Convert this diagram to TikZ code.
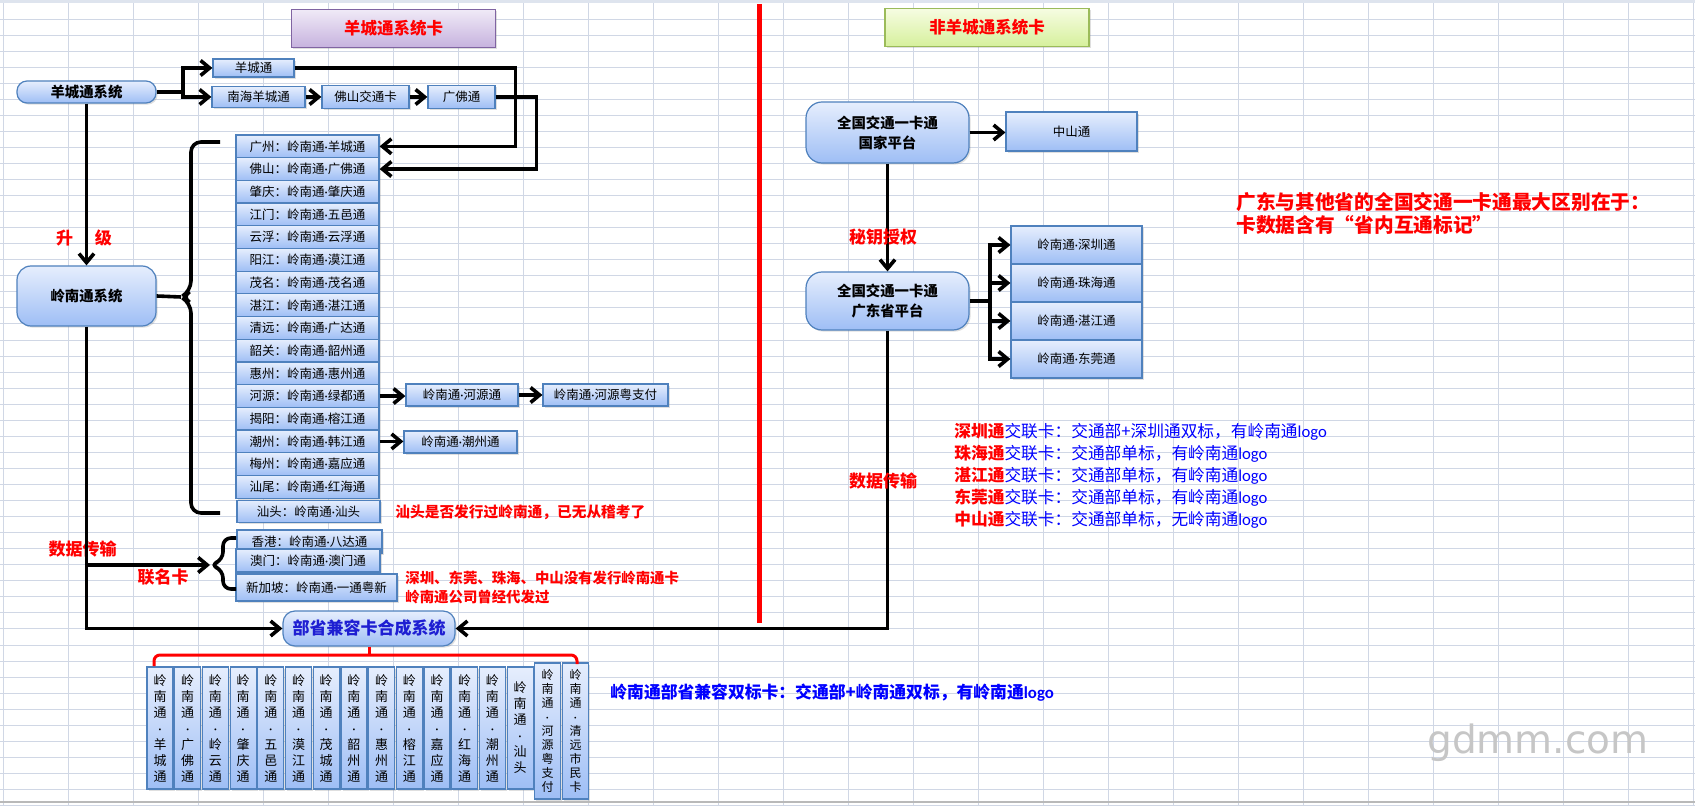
\documentclass[tikz,border=0pt]{standalone}
\usepackage{fontspec}
\setmainfont{Noto Sans CJK SC}
\newfontfamily\logofont{Carlito}
\newfontfamily\markfont{DejaVu Sans}
\usetikzlibrary{arrows.meta,shadows}
\definecolor{GridLine}{RGB}{208,215,229}
\definecolor{HeadBand}{RGB}{222,228,238}
\definecolor{BoxTop}{RGB}{230,238,253}
\definecolor{BoxBottom}{RGB}{158,190,245}
\definecolor{BoxLine}{RGB}{79,129,189}
\definecolor{LilacTop}{RGB}{240,234,247}
\definecolor{LilacBottom}{RGB}{198,178,222}
\definecolor{LilacLine}{RGB}{128,100,162}
\definecolor{LimeTop}{RGB}{246,252,226}
\definecolor{LimeBottom}{RGB}{214,240,156}
\definecolor{LimeLine}{RGB}{155,187,89}
\definecolor{NoteRed}{RGB}{255,0,0}
\definecolor{NoteBlue}{RGB}{0,0,255}
\definecolor{SysBlue}{RGB}{30,30,210}
\newcommand{\mdot}{{\logofont ·}}

\begin{document}
\begin{tikzpicture}[x=0.5pt, y=-0.5pt,
  every node/.style={align=center, inner sep=0pt},
  gridline/.style={GridLine, line width=0.5pt},
  cell/.style={draw=BoxLine, line width=0.6pt, top color=BoxTop, bottom color=BoxBottom,
    drop shadow={opacity=0.25,shadow xshift=0.8pt,shadow yshift=-0.8pt},
    font=\fontsize{6.25}{7.5}\selectfont},
  sysbox/.style={cell, rounded corners=5pt, font=\fontsize{7.2}{10}\selectfont\bfseries},
  rowbox/.style={cell, minimum width=71.5pt, minimum height=11.35pt},
  cardv/.style={cell, minimum width=13pt, minimum height=61pt, font=\fontsize{6.5}{8}\selectfont},
  titlebox/.style={line width=0.6pt, minimum width=102pt, minimum height=19pt,
    drop shadow={opacity=0.25,shadow xshift=0.8pt,shadow yshift=-0.8pt},
    text=NoteRed, font=\fontsize{8.25}{10}\selectfont\bfseries},
  redlbl/.style={text=NoteRed, font=\fontsize{8.5}{10}\selectfont\bfseries},
  wire/.style={line width=1.8pt},
  link/.style={wire, -{Straight Barb[length=4.5pt,width=7.5pt]}},
  brace/.style={wire, rounded corners=5pt}]
  \useasboundingbox (0,0) rectangle (1695,806);
  \fill[white] (0,0) rectangle (1695,806);
  \foreach \k in {0,...,26}
    \draw[gridline] ({3+65*\k},3) -- ({3+65*\k},806);
  \foreach \k in {0,...,50}
    \draw[gridline] (0,{3+16.05*\k}) -- (1695,{3+16.05*\k});
  \fill[HeadBand] (0,0) rectangle (1695,3);
  \draw[gray!55, line width=1pt] (0,802) -- (1695,802);

  \node[titlebox, draw=LilacLine, top color=LilacTop, bottom color=LilacBottom] (ycsk) at (393.5,28.5) {羊城通系统卡};
  \node[titlebox, draw=LimeLine, top color=LimeTop, bottom color=LimeBottom] (fycsk) at (987,27.5) {非羊城通系统卡};
  \draw[NoteRed, line width=2.5pt] (759,4) -- (759,623);

  \node[sysbox, minimum width=69.5pt, minimum height=11pt] (ycs) at (86.5,92) {羊城通系统};
  \node[cell, minimum width=40.5pt, minimum height=9pt] (yct) at (253.5,68) {羊城通};
  \node[cell, minimum width=46.5pt, minimum height=10.5pt] (nhy) at (258.5,97) {南海羊城通};
  \node[cell, minimum width=43.5pt, minimum height=11.5pt] (fsk) at (365.5,97) {佛山交通卡};
  \node[cell, minimum width=33.5pt, minimum height=11.5pt] (gft) at (461.5,97) {广佛通};
  \coordinate (ycfork) at (183,92);
  \draw[wire] (ycs.east) -- (ycfork);
  \foreach \b in {yct,nhy}
    \draw[link] (ycfork) |- (\b.west);
  \draw[link] (nhy) -- (fsk);
  \draw[link] (fsk) -- (gft);

  \node[sysbox, rounded corners=7pt, minimum width=69.5pt, minimum height=30pt] (lns) at (86.5,296) {岭南通系统};
  \draw[link] (ycs) -- (lns);
  \node[redlbl] (upg) at (84,238) {升\hspace{11pt}级};

  \foreach \i/\t in {1/广州：岭南通\mdot 羊城通, 2/佛山：岭南通\mdot 广佛通, 3/肇庆：岭南通\mdot 肇庆通,
      4/江门：岭南通\mdot 五邑通, 5/云浮：岭南通\mdot 云浮通, 6/阳江：岭南通\mdot 漠江通,
      7/茂名：岭南通\mdot 茂名通, 8/湛江：岭南通\mdot 湛江通, 9/清远：岭南通\mdot 广达通,
      10/韶关：岭南通\mdot 韶州通, 11/惠州：岭南通\mdot 惠州通, 12/河源：岭南通\mdot 绿都通,
      13/揭阳：岭南通\mdot 榕江通, 14/潮州：岭南通\mdot 韩江通, 15/梅州：岭南通\mdot 嘉应通,
      16/汕尾：岭南通\mdot 红海通}
    \node[rowbox] (r\i) at (307.5,{135+22.7*(\i-0.5)}) {\t};
  \node[rowbox] (r17) at (308.5,511.5) {汕头：岭南通\mdot 汕头};
  \draw[link] (yct.east) -- ++(221,0) |- (r1.east);
  \draw[link] (gft.east) -- ++(41,0) |- (r2.east);

  \coordinate (bigtip) at (181,297);
  \draw[wire] (lns.east) -- (bigtip);
  \draw[brace] (220,142) -- (191,142) -- (191,291) -- (bigtip) -- (191,303) -- (191,513) -- (220,513);

  \node[cell, minimum width=56pt, minimum height=11pt] (hyt) at (462,395) {岭南通\mdot 河源通};
  \node[cell, minimum width=62.5pt, minimum height=11pt] (hyzf) at (605.5,395) {岭南通\mdot 河源粤支付};
  \node[cell, minimum width=56.5pt, minimum height=11pt] (czt) at (460.5,442) {岭南通\mdot 潮州通};
  \draw[link] (r12.east) -- (r12.east -| hyt.west);
  \draw[link] (hyt) -- (hyzf);
  \draw[link] (r14.east) -- (r14.east -| czt.west);
  \node[anchor=west, text=NoteRed, font=\fontsize{7.35}{9}\selectfont\bfseries] (stnote) at (395,512) {汕头是否发行过岭南通，已无从稽考了};

  \node[cell, minimum width=72.5pt, minimum height=11.5pt] (hk) at (309.5,541.5) {香港：岭南通\mdot 八达通};
  \node[cell, minimum width=72pt, minimum height=11.5pt] (mo) at (308,560.5) {澳门：岭南通\mdot 澳门通};
  \node[cell, minimum width=80.5pt, minimum height=13.5pt] (sg) at (316.5,587.5) {新加坡：岭南通\mdot 一通粤新};
  \coordinate (smalltip) at (210,565);
  \draw[brace, rounded corners=4pt] (236,538) -- (223,538) -- (223,560) -- (smalltip) -- (223,570) -- (223,589) -- (236,589);
  \draw[link] (lns.south |- smalltip) -- (smalltip);
  \node[redlbl] (lmk) at (163,577) {联名卡};
  \node[redlbl] (sjl) at (82.5,549) {数据传输};
  \node[anchor=west, align=left, text=NoteRed, font=\fontsize{7.2}{9.5}\selectfont\bfseries] (fxnote) at (405,587.5) {深圳、东莞、珠海、中山没有发行岭南通卡\\岭南通公司曾经代发过};

  \node[sysbox, rounded corners=6pt, minimum width=86pt, minimum height=17.5pt, text=SysBlue, font=\fontsize{8.5}{10}\selectfont\bfseries] (bj) at (369,628.5) {部省兼容卡合成系统};
  \draw[link] (lns.south) |- (bj.west);

  \foreach \i/\t in {1/{羊\\城\\通}, 2/{广\\佛\\通}, 3/{岭\\云\\通}, 4/{肇\\庆\\通}, 5/{五\\邑\\通},
      6/{漠\\江\\通}, 7/{茂\\城\\通}, 8/{韶\\州\\通}, 9/{惠\\州\\通}, 10/{榕\\江\\通},
      11/{嘉\\应\\通}, 12/{红\\海\\通}, 13/{潮\\州\\通}, 14/{汕\\头}}
    \node[cardv] (c\i) at ({160+27.7*(\i-1)},728) {岭\\南\\通\\\mdot\\\t};
  \node[cardv, minimum height=68pt, font=\fontsize{6}{7}\selectfont] (c15) at (547.5,731) {岭\\南\\通\\\mdot\\河\\源\\粤\\支\\付};
  \node[cardv, minimum height=68pt, font=\fontsize{6}{7}\selectfont] (c16) at (575.5,731) {岭\\南\\通\\\mdot\\清\\远\\市\\民\\卡};
  \draw[NoteRed, line width=1.5pt] (bj.south) -- ++(0,9);
  \draw[NoteRed, line width=1.5pt, rounded corners=3pt] (154,666) -- (154,655) -- (577,655) -- (577,664);
  \node[anchor=west, text=NoteBlue, font=\fontsize{8.4}{10}\selectfont\bfseries] (bsnote) at (610,693) {岭南通部省兼容双标卡：交通部+岭南通双标，有岭南通{\logofont logo}};

  \node[sysbox, rounded corners=8pt, minimum width=81.5pt, minimum height=30.5pt] (gjp) at (887.5,132.5) {全国交通一卡通\\国家平台};
  \node[cell, minimum width=65.5pt, minimum height=19.5pt] (zst) at (1071.5,131.5) {中山通};
  \draw[link] (gjp.east) -- (gjp.east -| zst.west);
  \node[sysbox, rounded corners=8pt, minimum width=81.5pt, minimum height=29pt] (gdp) at (887.5,301) {全国交通一卡通\\广东省平台};
  \draw[link] (gjp) -- (gdp);
  \node[redlbl] (mysq) at (883,237) {秘钥授权};
  \node[cell, minimum width=65.5pt, minimum height=19pt] (lszt) at (1076.5,245) {岭南通\mdot 深圳通};
  \node[cell, minimum width=65.5pt, minimum height=19pt] (lzht) at (1076.5,283) {岭南通\mdot 珠海通};
  \node[cell, minimum width=65.5pt, minimum height=19pt] (lsjt) at (1076.5,321) {岭南通\mdot 湛江通};
  \node[cell, minimum width=65.5pt, minimum height=19pt] (ldgt) at (1076.5,359) {岭南通\mdot 东莞通};
  \coordinate (gdfork) at (990,301);
  \draw[wire] (gdp.east) -- (gdfork);
  \foreach \b in {lszt,lzht,lsjt,ldgt}
    \draw[link] (gdfork) |- (\b.west);
  \draw[link] (gdp.south) |- (bj.east);
  \node[redlbl] (sjr) at (883,481) {数据传输};

  \node[anchor=west, align=left, text=NoteRed, font=\fontsize{9.85}{11.5}\selectfont\bfseries] (gdnote) at (1236,213.5) {广东与其他省的全国交通一卡通最大区别在于：\\卡数据含有“省内互通标记”};
  \node[anchor=west, align=left, text=NoteBlue, font=\fontsize{8.35}{11}\selectfont] (jlnote) at (954,475.5) {%
    \textcolor{NoteRed}{\bfseries 深圳通}交联卡：交通部+深圳通双标，有岭南通{\logofont logo}\\
    \textcolor{NoteRed}{\bfseries 珠海通}交联卡：交通部单标，有岭南通{\logofont logo}\\
    \textcolor{NoteRed}{\bfseries 湛江通}交联卡：交通部单标，有岭南通{\logofont logo}\\
    \textcolor{NoteRed}{\bfseries 东莞通}交联卡：交通部单标，有岭南通{\logofont logo}\\
    \textcolor{NoteRed}{\bfseries 中山通}交联卡：交通部单标，无岭南通{\logofont logo}};

  \node[text=gray!45, font=\markfont\fontsize{19.5}{20}\selectfont] (mark) at (1538,743) {gdmm.com};
\end{tikzpicture}
\end{document}
